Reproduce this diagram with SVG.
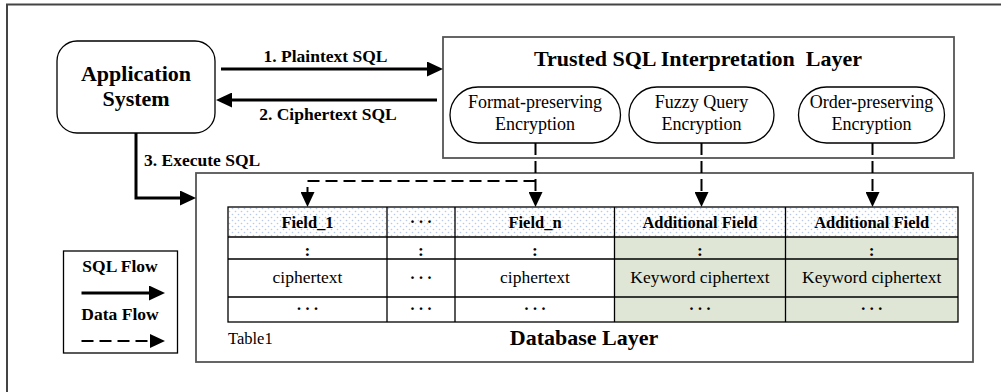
<svg xmlns="http://www.w3.org/2000/svg" width="1001" height="392" viewBox="0 0 1001 392">
<style>
text{font-family:"Liberation Serif","Times New Roman",serif;fill:#000}
.b{font-weight:bold}
.t22{font-size:22px}
.t18{font-size:18px}
.t17{font-size:17.5px}
.th{font-size:16.5px}
.mid{text-anchor:middle}
.frame{fill:none;stroke:#444;stroke-width:2}
.layer{fill:#fff;stroke:#555;stroke-width:1.8}
.pill{fill:#fff;stroke:#000;stroke-width:1.3}
.solid{fill:none;stroke:#000;stroke-width:3}
.dash{fill:none;stroke:#000;stroke-width:2;stroke-dasharray:12 6}
.grid{fill:none;stroke:#000;stroke-width:1.3}
.dots{letter-spacing:3px}
</style>
<defs>
<marker id="ah" markerUnits="userSpaceOnUse" markerWidth="16" markerHeight="15" refX="0" refY="7.5" orient="auto">
<path d="M0,0 L16,7.5 L0,15 z" fill="#000"/>
</marker>
<marker id="dh" markerUnits="userSpaceOnUse" markerWidth="15" markerHeight="14" refX="0" refY="7" orient="auto">
<path d="M0,0 L15,7 L0,14 z" fill="#000"/>
</marker>
<pattern id="dotfill" width="6" height="6" patternUnits="userSpaceOnUse">
<rect width="6" height="6" fill="#fff"/>
<circle cx="1.5" cy="1.5" r="0.8" fill="#b9c9e6"/>
<circle cx="4.5" cy="4.5" r="0.8" fill="#b9c9e6"/>
</pattern>
</defs>

<path class="frame" d="M7,400 V4.5 H1010"/>

<g id="app-system">
<rect x="57" y="41" width="158" height="92" rx="20" ry="20" fill="#fff" stroke="#000" stroke-width="1.3"/>
<text class="b t22 mid" x="136" y="81">Application</text>
<text class="b t22 mid" x="136" y="106">System</text>
</g>

<g id="trusted-layer">
<rect class="layer" x="443" y="37" width="511" height="121"/>
<text class="b t22 mid" x="698" y="66" xml:space="preserve">Trusted SQL Interpretation  Layer</text>
</g>

<g id="fpe">
<rect class="pill" x="450" y="87" width="170.5" height="56" rx="28" ry="28"/>
<text class="t18 mid" x="535" y="108">Format-preserving</text>
<text class="t18 mid" x="535" y="130">Encryption</text>
</g>
<g id="fqe">
<rect class="pill" x="629" y="87" width="145" height="56" rx="28" ry="28"/>
<text class="t18 mid" x="701.5" y="108">Fuzzy Query</text>
<text class="t18 mid" x="701.5" y="130">Encryption</text>
</g>
<g id="ope">
<rect class="pill" x="798.5" y="87" width="146" height="56" rx="28" ry="28"/>
<text class="t18 mid" x="871.5" y="108">Order-preserving</text>
<text class="t18 mid" x="871.5" y="130">Encryption</text>
</g>

<g id="database-layer">
<rect class="layer" x="196" y="173" width="777" height="189"/>
<text class="b t22 mid" x="584" y="345">Database Layer</text>
<text class="th" x="228" y="344">Table1</text>
</g>

<g id="table1">
<rect x="228" y="207" width="730" height="30" fill="url(#dotfill)"/>
<rect x="614.5" y="237" width="343.5" height="85" fill="#dfe6d6"/>
<rect class="grid" x="228" y="207" width="730" height="115"/>
<path class="grid" d="M228,237 H958 M228,259 H958 M228,297 H958 M387,207 V322 M455,207 V322 M614.5,207 V322 M785.5,207 V322"/>
<text class="b th mid" x="307.5" y="228">Field_1</text>
<text class="b th mid dots" x="422.5" y="226.5">···</text>
<text class="b th mid" x="535" y="228">Field_n</text>
<text class="b th mid" x="700" y="228">Additional Field</text>
<text class="b th mid" x="871.75" y="228">Additional Field</text>
<text class="b t17 mid" x="307.5" y="256">:</text>
<text class="b t17 mid" x="421" y="256">:</text>
<text class="b t17 mid" x="535" y="256">:</text>
<text class="b t17 mid" x="700" y="256">:</text>
<text class="b t17 mid" x="871.75" y="256">:</text>
<text class="t17 mid" x="307.5" y="283">ciphertext</text>
<text class="b th mid dots" x="422.5" y="283">···</text>
<text class="t17 mid" x="535" y="283">ciphertext</text>
<text class="t17 mid" x="700" y="283">Keyword ciphertext</text>
<text class="t17 mid" x="871.75" y="283">Keyword ciphertext</text>
<text class="b th mid dots" x="309" y="314">···</text>
<text class="b th mid dots" x="422.5" y="314">···</text>
<text class="b th mid dots" x="536.5" y="314">···</text>
<text class="b th mid dots" x="701.5" y="314">···</text>
<text class="b th mid dots" x="873.25" y="314">···</text>
</g>

<g id="legend">
<rect x="63.5" y="251" width="114" height="102" fill="#fff" stroke="#000" stroke-width="1.3"/>
<text class="b t17 mid" x="120" y="272">SQL Flow</text>
<path class="solid" d="M81.5,293 H149" marker-end="url(#ah)"/>
<text class="b t17 mid" x="120" y="320">Data Flow</text>
<path class="dash" d="M81.5,341 H150" marker-end="url(#dh)"/>
</g>

<g id="connectors">
<path class="solid" d="M221,69 H427" marker-end="url(#ah)"/>
<text class="b t17 mid" x="325.5" y="62">1. Plaintext SQL</text>
<path class="solid" d="M437,100 H232" marker-end="url(#ah)"/>
<text class="b t17 mid" x="328" y="119.5">2. Ciphertext SQL</text>
<path class="solid" d="M136,133 V198 H180" marker-end="url(#ah)"/>
<text class="b t17" x="144" y="166">3. Execute SQL</text>
<path class="dash" d="M535.5,143 V192" marker-end="url(#dh)"/>
<path class="dash" d="M535.5,181 H307.5 V192" marker-end="url(#dh)"/>
<path class="dash" d="M701.5,143 V192" marker-end="url(#dh)"/>
<path class="dash" d="M872.5,143 V192" marker-end="url(#dh)"/>
</g>
</svg>
